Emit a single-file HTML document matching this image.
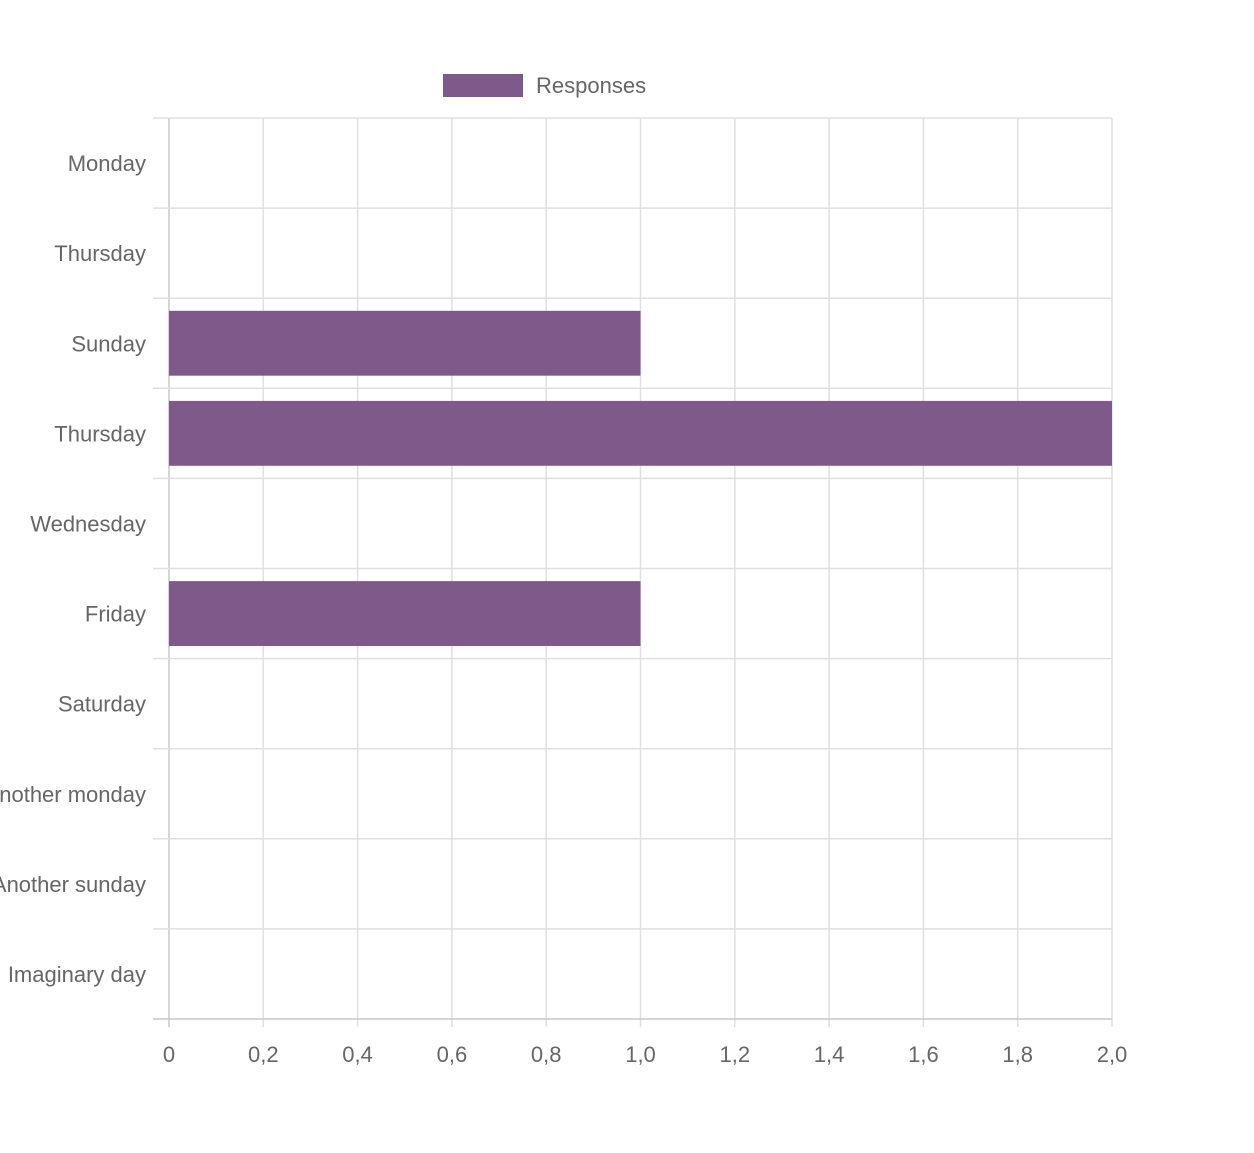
<!DOCTYPE html>
<html><head><meta charset="utf-8">
<style>
html,body{margin:0;padding:0;background:#fff;}
svg text{font-family:"Liberation Sans",Arial,sans-serif;fill:#666;font-size:22px;}
</style></head>
<body>
<svg width="1254" height="1148" viewBox="0 0 1254 1148" id="chart">
<g>
<rect x="443" y="74" width="80" height="23" fill="#80598b"/>
<text x="536" y="93">Responses</text>
</g>
</svg>
<script>
const categories=["Monday","Thursday","Sunday","Thursday","Wednesday","Friday","Saturday","Another monday","Another sunday","Imaginary day"];
const values=[0,0,1,2,0,1,0,0,0,0];
const xTicks=[0,0.2,0.4,0.6,0.8,1.0,1.2,1.4,1.6,1.8,2.0];
const xTickLabels=["0","0,2","0,4","0,6","0,8","1,0","1,2","1,4","1,6","1,8","2,0"];
const svg=document.getElementById('chart');
const NS="http://www.w3.org/2000/svg";
const L=169,R=1112,T=118,B=1019,xMax=2;
const x=v=>L+(R-L)*v/xMax;
const band=(B-T)/categories.length;
const y=i=>T+band*i;
function mk(tag,attrs){const e=document.createElementNS(NS,tag);for(const k in attrs)e.setAttribute(k,attrs[k]);svg.appendChild(e);return e;}
xTicks.forEach((t,i)=>{
 const l=mk('line',{x1:x(t),x2:x(t),y1:T,y2:B+8,stroke:i==0?'#c8c8c8':'#e0e0e0','stroke-width':1.5});
 
 
 const tx=mk('text',{x:x(t),y:1062,'text-anchor':'middle'});tx.textContent=xTickLabels[i];
 
 
});
for(let i=0;i<=categories.length;i++){
 const l=mk('line',{x1:153,x2:R,y1:y(i),y2:y(i),stroke:i==categories.length?'#c8c8c8':'#e0e0e0','stroke-width':1.5});
 
 
}
categories.forEach((c,i)=>{
 const tx=mk('text',{x:146,y:y(i)+band/2+8,'text-anchor':'end'});tx.textContent=c;
 
 
 if(values[i]>0){
  const h=band*0.72;
  const r=mk('rect',{x:x(0),y:y(i)+(band-h)/2,width:x(values[i])-x(0),height:h,fill:'#80598b'});
  
  
 }
});
</script>
</body></html>
